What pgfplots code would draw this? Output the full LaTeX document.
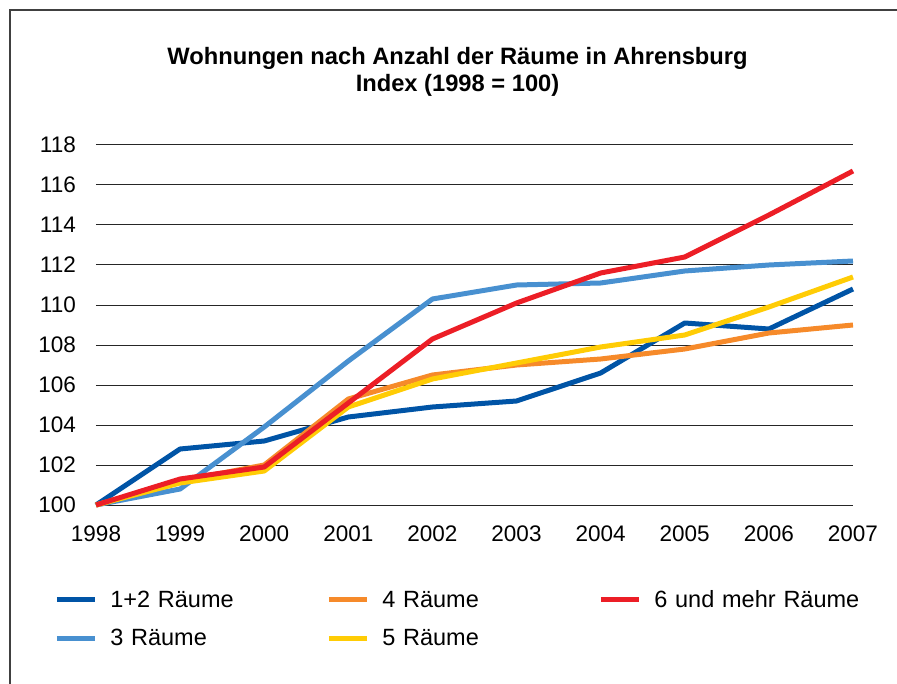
\documentclass[border=0pt]{standalone}
\usepackage{pgfplots}
\pgfplotsset{compat=1.18}
\usepackage{fontspec}
\setmainfont{Liberation Sans}
\definecolor{cA}{RGB}{0,84,166}
\definecolor{cB}{RGB}{72,144,208}
\definecolor{cC}{RGB}{246,138,42}
\definecolor{cD}{RGB}{255,204,5}
\definecolor{cE}{RGB}{236,30,38}
\begin{document}
\begin{tikzpicture}
\path[use as bounding box] (-96bp,-179bp) rectangle (801bp,505bp);
\draw[line width=1.6bp, black!75] (-86bp,-179bp) -- (-86bp,495bp) -- (801bp,495bp);
\begin{axis}[
  at={(0,0)}, anchor=south west,
  scale only axis, width=757bp, height=360bp,
  xmin=1998, xmax=2007, ymin=100, ymax=118,
  xtick={1998,1999,...,2007},
  ytick={100,102,...,118},
  axis line style={draw=none},
  major tick length=0pt,
  ymajorgrids, grid style={black!85, line width=1bp},
  clip=false,
  /pgf/number format/assume math mode=true,
  xticklabel style={/pgf/number format/1000 sep=, font=\fontsize{22.5bp}{26bp}\selectfont, inner sep=0pt, text height=16bp, text depth=0pt, anchor=north, yshift=-20bp},
  yticklabel style={font=\fontsize{22.5bp}{26bp}\selectfont, inner sep=0pt, anchor=east, xshift=-20bp},
  title={Wohnungen nach Anzahl der Räume in Ahrensburg\\Index (1998 = 100)},
  title style={font=\bfseries\fontsize{23.7bp}{27bp}\selectfont, align=center, at={(rel axis cs:0.4776,1.186)}, anchor=center},
  legend columns=3,
  legend cell align=left,
  legend style={draw=none, fill=none, at={(rel axis cs:-0.0554,-0.2389)}, anchor=north west,
    inner sep=0pt, row sep=21bp, column sep=0pt,
    font=\fontsize{23.5bp}{28bp}\selectfont,
    nodes={inner sep=0pt},
    /tikz/every even column/.append style={text width=216bp, text height=16bp, text depth=5bp}},
  legend image code/.code={\draw[#1, line width=5bp] (0bp,0bp) -- (38bp,0bp); \path (51bp,0bp);},
  every axis plot/.append style={line width=5bp, line join=round},
]
\addplot[cA, forget plot] coordinates {(1998,100) (1999,102.8) (2000,103.2) (2001,104.4) (2002,104.9) (2003,105.2) (2004,106.6) (2005,109.1) (2006,108.8) (2007,110.8)};
\addplot[cB, forget plot] coordinates {(1998,100) (1999,100.8) (2000,103.9) (2001,107.2) (2002,110.3) (2003,111.0) (2004,111.1) (2005,111.7) (2006,112.0) (2007,112.2)};
\addplot[cC, forget plot] coordinates {(1998,100) (1999,101.2) (2000,102.0) (2001,105.3) (2002,106.5) (2003,107.0) (2004,107.3) (2005,107.8) (2006,108.6) (2007,109.0)};
\addplot[cD, forget plot] coordinates {(1998,100) (1999,101.1) (2000,101.7) (2001,104.9) (2002,106.3) (2003,107.1) (2004,107.9) (2005,108.5) (2006,109.9) (2007,111.4)};
\addplot[cE, forget plot] coordinates {(1998,100) (1999,101.3) (2000,101.9) (2001,105.1) (2002,108.3) (2003,110.1) (2004,111.6) (2005,112.4) (2006,114.5) (2007,116.7)};
\addlegendimage{cA}\addlegendentry{1+2 Räume}
\addlegendimage{cC}\addlegendentry{4 Räume}
\addlegendimage{cE}\addlegendentry{6 und mehr Räume}
\addlegendimage{cB}\addlegendentry{3 Räume}
\addlegendimage{cD}\addlegendentry{5 Räume}
\end{axis}
\end{tikzpicture}
\end{document}
